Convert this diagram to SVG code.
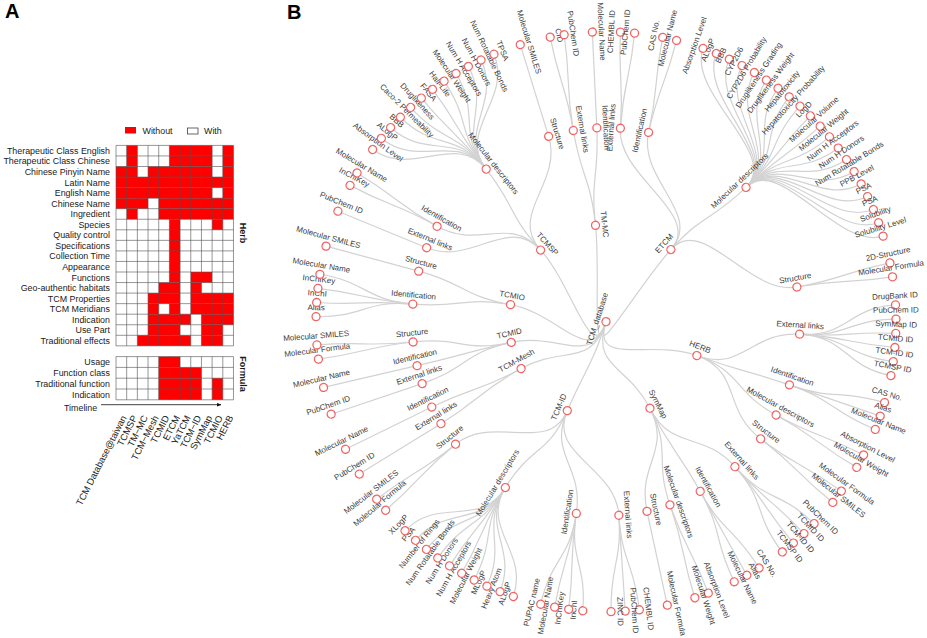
<svg xmlns="http://www.w3.org/2000/svg" width="927" height="638" viewBox="0 0 927 638">
<defs>
<style>
text{font-family:"Liberation Sans",Arial,Helvetica,sans-serif}
.t{font-size:8.9px;fill:#1a1a1a}
.e{text-anchor:end}
.cl{font-size:9.4px;fill:#1a1a1a;text-anchor:end}
.sec{font-size:9px;font-weight:bold;fill:#1a1a1a;text-anchor:middle}
.pl{font-size:20px;font-weight:bold;fill:#000}
.red{fill:#ff0000}
.grid{fill:none;stroke:#505050;stroke-width:0.6}
.lk{fill:none;stroke:#d2d2d2;stroke-width:1.2}
.nd circle{fill:#fff;stroke:#f06464;stroke-width:1.3}
.nd text{font-size:8px;fill:#3d3d3d;text-anchor:middle}
</style>
<marker id="ah" viewBox="0 0 10 10" refX="9" refY="5" markerWidth="6" markerHeight="6" orient="auto"><path d="M0,1L10,5L0,9z" fill="#111"/></marker>
</defs>
<rect width="927" height="638" fill="#fff"/>

<g id="panelA">
<text class="pl" x="5" y="17.5">A</text>
<g id="legend">
<rect x="125" y="127" width="11" height="6.5" class="red"/>
<text class="t" x="142.5" y="133.5">Without</text>
<rect x="187.5" y="128" width="10.5" height="6" fill="#fff" stroke="#444" stroke-width="0.8"/>
<text class="t" x="204" y="133.5">With</text>
</g>
<g id="herb-cells">
<rect class="red" x="126.68" y="145.4" width="10.68" height="10.55"/>
<rect class="red" x="169.4" y="145.4" width="42.72" height="10.55"/>
<rect class="red" x="222.8" y="145.4" width="10.68" height="10.55"/>
<rect class="red" x="126.68" y="155.95" width="10.68" height="10.55"/>
<rect class="red" x="169.4" y="155.95" width="42.72" height="10.55"/>
<rect class="red" x="222.8" y="155.95" width="10.68" height="10.55"/>
<rect class="red" x="116" y="166.5" width="21.36" height="10.55"/>
<rect class="red" x="148.04" y="166.5" width="64.08" height="10.55"/>
<rect class="red" x="222.8" y="166.5" width="10.68" height="10.55"/>
<rect class="red" x="116" y="177.05" width="117.48" height="10.55"/>
<rect class="red" x="116" y="187.6" width="96.12" height="10.55"/>
<rect class="red" x="222.8" y="187.6" width="10.68" height="10.55"/>
<rect class="red" x="116" y="198.15" width="32.04" height="10.55"/>
<rect class="red" x="158.72" y="198.15" width="74.76" height="10.55"/>
<rect class="red" x="126.68" y="208.7" width="10.68" height="10.55"/>
<rect class="red" x="158.72" y="208.7" width="74.76" height="10.55"/>
<rect class="red" x="169.4" y="219.25" width="10.68" height="52.75"/>
<rect class="red" x="212.12" y="219.25" width="10.68" height="10.55"/>
<rect class="red" x="169.4" y="272" width="10.68" height="10.55"/>
<rect class="red" x="190.76" y="272" width="21.36" height="10.55"/>
<rect class="red" x="158.72" y="282.55" width="21.36" height="10.55"/>
<rect class="red" x="190.76" y="282.55" width="10.68" height="10.55"/>
<rect class="red" x="148.04" y="293.1" width="32.04" height="10.55"/>
<rect class="red" x="190.76" y="293.1" width="42.72" height="10.55"/>
<rect class="red" x="148.04" y="303.65" width="10.68" height="10.55"/>
<rect class="red" x="169.4" y="303.65" width="10.68" height="10.55"/>
<rect class="red" x="190.76" y="303.65" width="42.72" height="10.55"/>
<rect class="red" x="148.04" y="314.2" width="42.72" height="10.55"/>
<rect class="red" x="201.44" y="314.2" width="32.04" height="10.55"/>
<rect class="red" x="148.04" y="324.75" width="32.04" height="10.55"/>
<rect class="red" x="201.44" y="324.75" width="21.36" height="10.55"/>
<rect class="red" x="137.36" y="335.3" width="53.4" height="10.55"/>
<rect class="red" x="201.44" y="335.3" width="21.36" height="10.55"/>
</g>
<path class="grid" d="M116,145.4V345.85M126.68,145.4V345.85M137.36,145.4V345.85M148.04,145.4V345.85M158.72,145.4V345.85M169.4,145.4V345.85M180.08,145.4V345.85M190.76,145.4V345.85M201.44,145.4V345.85M212.12,145.4V345.85M222.8,145.4V345.85M233.48,145.4V345.85M116,145.4H233.48M116,155.95H233.48M116,166.5H233.48M116,177.05H233.48M116,187.6H233.48M116,198.15H233.48M116,208.7H233.48M116,219.25H233.48M116,229.8H233.48M116,240.35H233.48M116,250.9H233.48M116,261.45H233.48M116,272H233.48M116,282.55H233.48M116,293.1H233.48M116,303.65H233.48M116,314.2H233.48M116,324.75H233.48M116,335.3H233.48M116,345.85H233.48"/>
<g id="formula-cells">
<rect class="red" x="158.72" y="356.6" width="21.36" height="10.8"/>
<rect class="red" x="158.72" y="367.4" width="42.72" height="10.8"/>
<rect class="red" x="158.72" y="378.2" width="42.72" height="21.6"/>
<rect class="red" x="212.12" y="378.2" width="10.68" height="21.6"/>
</g>
<path class="grid" d="M116,356.6V399.8M126.68,356.6V399.8M137.36,356.6V399.8M148.04,356.6V399.8M158.72,356.6V399.8M169.4,356.6V399.8M180.08,356.6V399.8M190.76,356.6V399.8M201.44,356.6V399.8M212.12,356.6V399.8M222.8,356.6V399.8M233.48,356.6V399.8M116,356.6H233.48M116,367.4H233.48M116,378.2H233.48M116,389H233.48M116,399.8H233.48"/>
<g id="row-labels" class="t e">
<text x="110" y="153.9">Therapeutic Class English</text>
<text x="110" y="164.45">Therapeutic Class Chinese</text>
<text x="110" y="175">Chinese Pinyin Name</text>
<text x="110" y="185.55">Latin Name</text>
<text x="110" y="196.1">English Name</text>
<text x="110" y="206.65">Chinese Name</text>
<text x="110" y="217.2">Ingredient</text>
<text x="110" y="227.75">Species</text>
<text x="110" y="238.3">Quality control</text>
<text x="110" y="248.85">Specifications</text>
<text x="110" y="259.4">Collection Time</text>
<text x="110" y="269.95">Appearance</text>
<text x="110" y="280.5">Functions</text>
<text x="110" y="291.05">Geo-authentic habitats</text>
<text x="110" y="301.6">TCM Properties</text>
<text x="110" y="312.15">TCM Meridians</text>
<text x="110" y="322.7">Indication</text>
<text x="110" y="333.25">Use Part</text>
<text x="110" y="343.8">Traditional effects</text>
<text x="110" y="365.2">Usage</text>
<text x="110" y="376">Function class</text>
<text x="110" y="386.8">Traditional function</text>
<text x="110" y="397.6">Indication</text>
</g>
<text class="sec" transform="translate(240,233) rotate(90)">Herb</text>
<text class="sec" transform="translate(240,374) rotate(90)">Formula</text>
<text class="t" x="64" y="410.5">Timeline</text>
<path d="M101,404.7H221" stroke="#111" stroke-width="0.8" fill="none" marker-end="url(#ah)"/>
<g id="col-labels">
<text class="cl" transform="translate(126.8,417.5) rotate(-63)">TCM Database@taiwan</text>
<text class="cl" transform="translate(137.5,417.5) rotate(-63)">TCMSP</text>
<text class="cl" transform="translate(148.2,417.5) rotate(-63)">TM−MC</text>
<text class="cl" transform="translate(158.9,417.5) rotate(-63)">TCM−Mesh</text>
<text class="cl" transform="translate(169.6,417.5) rotate(-63)">TCMID</text>
<text class="cl" transform="translate(180.2,417.5) rotate(-63)">ETCM</text>
<text class="cl" transform="translate(190.9,417.5) rotate(-63)">YaTCM</text>
<text class="cl" transform="translate(201.6,417.5) rotate(-63)">TCM−ID</text>
<text class="cl" transform="translate(212.3,417.5) rotate(-63)">SymMap</text>
<text class="cl" transform="translate(223,417.5) rotate(-63)">TCMIO</text>
<text class="cl" transform="translate(233.6,417.5) rotate(-63)">HERB</text>
</g>
</g>

<text class="pl" x="287" y="18.5">B</text>
<g id="tree" transform="translate(606,321.7)">
<g id="connectors" class="lk">
<g transform="rotate(197.8875)">
<path d="M0,0C0,-48.5 -19.79,44.28 -39.59,88.55"/>
<path d="M0,0C0,-48.5 -48.45,-2.15 -96.9,-4.29"/>
<path d="M0,0C0,-48.5 -34.18,-34.41 -68.36,-68.81"/>
<path d="M0,0C0,-48.5 4.76,-48.26 9.53,-96.53"/>
<path d="M0,0C0,-48.5 33.21,-35.35 66.42,-70.69"/>
<path d="M0,0C0,-48.5 41.92,-24.39 83.84,-48.77"/>
<path d="M0,0C0,-48.5 48.06,-6.53 96.11,-13.06"/>
<path d="M0,0C0,-48.5 42.12,24.04 84.25,48.08"/>
<path d="M0,0C0,-48.5 19.79,44.28 39.59,88.55"/>
</g>
<g transform="rotate(41.975)">
<path d="M0,-97C0,-145.5 -89.02,-115.08 -118.7,-153.44"/>
<path d="M0,-97C0,-145.5 -71.2,-126.88 -94.94,-169.18"/>
<path d="M0,-97C0,-145.5 10.72,-145.1 14.29,-193.47"/>
<path d="M0,-97C0,-145.5 89.02,-115.08 118.7,-153.44"/>
</g>
<g transform="rotate(110.425)">
<path d="M0,-97C0,-145.5 -41.87,-139.34 -55.83,-185.79"/>
<path d="M0,-97C0,-145.5 -3.62,-145.46 -4.83,-193.94"/>
<path d="M0,-97C0,-145.5 21.07,-143.96 28.09,-191.95"/>
<path d="M0,-97C0,-145.5 41.87,-139.34 55.83,-185.79"/>
</g>
<g transform="rotate(153.075)">
<path d="M0,-97C0,-145.5 -36.98,-140.72 -49.31,-187.62"/>
<path d="M0,-97C0,-145.5 -5.4,-145.4 -7.19,-193.87"/>
<path d="M0,-97C0,-145.5 19.43,-144.2 25.91,-192.26"/>
<path d="M0,-97C0,-145.5 36.98,-140.72 49.31,-187.62"/>
</g>
<g transform="rotate(203.525)">
<path d="M0,-97C0,-145.5 -66.79,-129.26 -89.05,-172.35"/>
<path d="M0,-97C0,-145.5 -36.98,-140.72 -49.31,-187.62"/>
<path d="M0,-97C0,-145.5 19.56,-144.18 26.08,-192.24"/>
<path d="M0,-97C0,-145.5 66.79,-129.26 89.05,-172.35"/>
</g>
<g transform="rotate(241.1)">
<path d="M0,-97C0,-145.5 -7.11,-145.33 -9.48,-193.77"/>
<path d="M0,-97C0,-145.5 7.11,-145.33 9.48,-193.77"/>
</g>
<g transform="rotate(257.7)">
<path d="M0,-97C0,-145.5 -15.97,-144.62 -21.29,-192.83"/>
<path d="M0,-97C0,-145.5 -2.03,-145.49 -2.71,-193.98"/>
<path d="M0,-97C0,-145.5 15.97,-144.62 21.29,-192.83"/>
</g>
<g transform="rotate(280.15)">
<path d="M0,-97C0,-145.5 -12.56,-144.96 -16.74,-193.27"/>
<path d="M0,-97C0,-145.5 12.56,-144.96 16.74,-193.27"/>
</g>
<g transform="rotate(317.6)">
<path d="M0,-97C0,-145.5 -61.95,-131.65 -82.6,-175.53"/>
<path d="M0,-97C0,-145.5 -45.32,-138.26 -60.43,-184.35"/>
<path d="M0,-97C0,-145.5 10.78,-145.1 14.38,-193.46"/>
<path d="M0,-97C0,-145.5 61.95,-131.65 82.6,-175.53"/>
</g>
<g transform="rotate(353.8)">
<path d="M0,-97C0,-145.5 -8.88,-145.22 -11.84,-193.63"/>
<path d="M0,-97C0,-145.5 8.88,-145.22 11.84,-193.63"/>
</g>
<!-- leaf links -->
<g transform="rotate(4.25)">
<path d="M0,-194C0,-242 -5.9,-241.9 -7.1,-289.9"/><path d="M0,-194C0,-242 5.9,-241.9 7.1,-289.9"/>
</g>
<g transform="rotate(12.675)">
<path d="M0,-194C0,-242 -5.9,-241.9 -7.1,-289.9"/><path d="M0,-194C0,-242 5.9,-241.9 7.1,-289.9"/>
</g>
<g transform="rotate(46.2)">
<path d="M0,-194C0,-242 -108.5,-216.3 -130.1,-259.2"/>
<path d="M0,-194C0,-242 -97.8,-221.3 -117.2,-265.2"/>
<path d="M0,-194C0,-242 -86.9,-225.9 -104.1,-270.7"/>
<path d="M0,-194C0,-242 -75.7,-229.8 -90.7,-275.4"/>
<path d="M0,-194C0,-242 -64.4,-233.3 -77.1,-279.5"/>
<path d="M0,-194C0,-242 -52.9,-236.1 -63.4,-283"/>
<path d="M0,-194C0,-242 -41.3,-238.5 -49.4,-285.7"/>
<path d="M0,-194C0,-242 -29.5,-240.2 -35.4,-287.8"/>
<path d="M0,-194C0,-242 -17.8,-241.3 -21.3,-289.2"/>
<path d="M0,-194C0,-242 -5.9,-241.9 -7.1,-289.9"/>
<path d="M0,-194C0,-242 5.9,-241.9 7.1,-289.9"/>
<path d="M0,-194C0,-242 17.8,-241.3 21.3,-289.2"/>
<path d="M0,-194C0,-242 29.5,-240.2 35.4,-287.8"/>
<path d="M0,-194C0,-242 41.3,-238.5 49.4,-285.7"/>
<path d="M0,-194C0,-242 52.9,-236.1 63.4,-283"/>
<path d="M0,-194C0,-242 64.4,-233.3 77.1,-279.5"/>
<path d="M0,-194C0,-242 75.7,-229.8 90.7,-275.4"/>
<path d="M0,-194C0,-242 86.9,-225.9 104.1,-270.7"/>
<path d="M0,-194C0,-242 97.8,-221.3 117.2,-265.2"/>
<path d="M0,-194C0,-242 108.5,-216.3 130.1,-259.2"/>
</g>
<g transform="rotate(79.7)">
<path d="M0,-194C0,-242 -5.9,-241.9 -7.1,-289.9"/><path d="M0,-194C0,-242 5.9,-241.9 7.1,-289.9"/>
</g>
<g transform="rotate(93.7)">
<path d="M0,-194C0,-242 -29.5,-240.2 -35.4,-287.8"/>
<path d="M0,-194C0,-242 -17.8,-241.3 -21.3,-289.2"/>
<path d="M0,-194C0,-242 -5.9,-241.9 -7.1,-289.9"/>
<path d="M0,-194C0,-242 5.9,-241.9 7.1,-289.9"/>
<path d="M0,-194C0,-242 17.8,-241.3 21.3,-289.2"/>
<path d="M0,-194C0,-242 29.5,-240.2 35.4,-287.8"/>
</g>
<g transform="rotate(109)">
<path d="M0,-194C0,-242 -11.8,-241.7 -14.2,-289.7"/><path d="M0,-194V-290"/><path d="M0,-194C0,-242 11.8,-241.7 14.2,-289.7"/>
</g>
<g transform="rotate(118.75)">
<path d="M0,-194C0,-242 -5.9,-241.9 -7.1,-289.9"/><path d="M0,-194C0,-242 5.9,-241.9 7.1,-289.9"/>
</g>
<g transform="rotate(127.15)">
<path d="M0,-194C0,-242 -5.9,-241.9 -7.1,-289.9"/><path d="M0,-194C0,-242 5.9,-241.9 7.1,-289.9"/>
</g>
<g transform="rotate(138.35)">
<path d="M0,-194C0,-242 -17.8,-241.3 -21.3,-289.2"/>
<path d="M0,-194C0,-242 -5.9,-241.9 -7.1,-289.9"/>
<path d="M0,-194C0,-242 5.9,-241.9 7.1,-289.9"/>
<path d="M0,-194C0,-242 17.8,-241.3 21.3,-289.2"/>
</g>
<g transform="rotate(150.95)">
<path d="M0,-194C0,-242 -11.8,-241.7 -14.2,-289.7"/><path d="M0,-194V-290"/><path d="M0,-194C0,-242 11.8,-241.7 14.2,-289.7"/>
</g>
<g transform="rotate(160.75)">
<path d="M0,-194C0,-242 -5.9,-241.9 -7.1,-289.9"/><path d="M0,-194C0,-242 5.9,-241.9 7.1,-289.9"/>
</g>
<g transform="rotate(167.8)"><path d="M0,-194V-290"/></g>
<g transform="rotate(176.2)">
<path d="M0,-194C0,-242 -11.8,-241.7 -14.2,-289.7"/><path d="M0,-194V-290"/><path d="M0,-194C0,-242 11.8,-241.7 14.2,-289.7"/>
</g>
<g transform="rotate(188.8)">
<path d="M0,-194C0,-242 -17.8,-241.3 -21.3,-289.2"/>
<path d="M0,-194C0,-242 -5.9,-241.9 -7.1,-289.9"/>
<path d="M0,-194C0,-242 5.9,-241.9 7.1,-289.9"/>
<path d="M0,-194C0,-242 17.8,-241.3 21.3,-289.2"/>
</g>
<g transform="rotate(211.25)">
<path d="M0,-194C0,-242 -52.9,-236.1 -63.4,-283"/>
<path d="M0,-194C0,-242 -41.3,-238.5 -49.4,-285.7"/>
<path d="M0,-194C0,-242 -29.5,-240.2 -35.4,-287.8"/>
<path d="M0,-194C0,-242 -17.8,-241.3 -21.3,-289.2"/>
<path d="M0,-194C0,-242 -5.9,-241.9 -7.1,-289.9"/>
<path d="M0,-194C0,-242 5.9,-241.9 7.1,-289.9"/>
<path d="M0,-194C0,-242 17.8,-241.3 21.3,-289.2"/>
<path d="M0,-194C0,-242 29.5,-240.2 35.4,-287.8"/>
<path d="M0,-194C0,-242 41.3,-238.5 49.4,-285.7"/>
<path d="M0,-194C0,-242 52.9,-236.1 63.4,-283"/>
</g>
<g transform="rotate(230.85)">
<path d="M0,-194C0,-242 -5.9,-241.9 -7.1,-289.9"/><path d="M0,-194C0,-242 5.9,-241.9 7.1,-289.9"/>
</g>
<g transform="rotate(238.3)"><path d="M0,-194V-290"/></g>
<g transform="rotate(243.9)"><path d="M0,-194V-290"/></g>
<g transform="rotate(251.4)"><path d="M0,-194V-290"/></g>
<g transform="rotate(256.9)"><path d="M0,-194V-290"/></g>
<g transform="rotate(264)">
<path d="M0,-194C0,-242 -5.9,-241.9 -7.1,-289.9"/><path d="M0,-194C0,-242 5.9,-241.9 7.1,-289.9"/>
</g>
<g transform="rotate(275.2)">
<path d="M0,-194C0,-242 -17.8,-241.3 -21.3,-289.2"/>
<path d="M0,-194C0,-242 -5.9,-241.9 -7.1,-289.9"/>
<path d="M0,-194C0,-242 5.9,-241.9 7.1,-289.9"/>
<path d="M0,-194C0,-242 17.8,-241.3 21.3,-289.2"/>
</g>
<g transform="rotate(285.1)"><path d="M0,-194V-290"/></g>
<g transform="rotate(292.4)"><path d="M0,-194V-290"/></g>
<g transform="rotate(299.45)">
<path d="M0,-194C0,-242 -5.9,-241.9 -7.1,-289.9"/><path d="M0,-194C0,-242 5.9,-241.9 7.1,-289.9"/>
</g>
<g transform="rotate(321.85)">
<path d="M0,-194C0,-242 -64.4,-233.3 -77.1,-279.5"/>
<path d="M0,-194C0,-242 -52.9,-236.1 -63.4,-283"/>
<path d="M0,-194C0,-242 -41.3,-238.5 -49.4,-285.7"/>
<path d="M0,-194C0,-242 -29.5,-240.2 -35.4,-287.8"/>
<path d="M0,-194C0,-242 -17.8,-241.3 -21.3,-289.2"/>
<path d="M0,-194C0,-242 -5.9,-241.9 -7.1,-289.9"/>
<path d="M0,-194C0,-242 5.9,-241.9 7.1,-289.9"/>
<path d="M0,-194C0,-242 17.8,-241.3 21.3,-289.2"/>
<path d="M0,-194C0,-242 29.5,-240.2 35.4,-287.8"/>
<path d="M0,-194C0,-242 41.3,-238.5 49.4,-285.7"/>
<path d="M0,-194C0,-242 52.9,-236.1 63.4,-283"/>
<path d="M0,-194C0,-242 64.4,-233.3 77.1,-279.5"/>
</g>
<g transform="rotate(342.8)"><path d="M0,-194V-290"/></g>
<g transform="rotate(350.3)">
<path d="M0,-194C0,-242 -5.9,-241.9 -7.1,-289.9"/><path d="M0,-194C0,-242 5.9,-241.9 7.1,-289.9"/>
</g>
<g transform="rotate(357.3)"><path d="M0,-194V-290"/></g>
</g>

<g id="nodes">
<g id="n-root" class="nd" transform="rotate(197.8875)"><circle r="4"/><text transform="rotate(90)" y="-6.5">TCM_database</text></g>
<g id="n-etcm" class="nd" transform="rotate(41.975) translate(0,-97)"><circle r="4"/><text transform="rotate(-90)" y="-6.5">ETCM</text></g>
<g id="n-herb" class="nd" transform="rotate(110.425) translate(0,-97)"><circle r="4"/><text transform="rotate(-90)" y="-6.5">HERB</text></g>
<g id="n-symmap" class="nd" transform="rotate(153.075) translate(0,-97)"><circle r="4"/><text transform="rotate(-90)" y="-6.5">SymMap</text></g>
<g id="n-tcm-id" class="nd" transform="rotate(203.525) translate(0,-97)"><circle r="4"/><text transform="rotate(90)" y="-6.5">TCM-ID</text></g>
<g id="n-tcm-mesh" class="nd" transform="rotate(241.1) translate(0,-97)"><circle r="4"/><text transform="rotate(90)" y="-6.5">TCM-Mesh</text></g>
<g id="n-tcmid" class="nd" transform="rotate(257.7) translate(0,-97)"><circle r="4"/><text transform="rotate(90)" y="-6.5">TCMID</text></g>
<g id="n-tcmio" class="nd" transform="rotate(280.15) translate(0,-97)"><circle r="4"/><text transform="rotate(90)" y="-6.5">TCMIO</text></g>
<g id="n-tcmsp" class="nd" transform="rotate(317.6) translate(0,-97)"><circle r="4"/><text transform="rotate(90)" y="-6.5">TCMSP</text></g>
<g id="n-tm-mc" class="nd" transform="rotate(353.8) translate(0,-97)"><circle r="4"/><text transform="rotate(90)" y="-6.5">TM-MC</text></g>

<g id="n-etcm-el" class="nd" transform="rotate(4.25) translate(0,-194)"><circle r="4"/><text transform="rotate(-90)" y="-6.5">External links</text></g>
<g id="n-etcm-id" class="nd" transform="rotate(12.675) translate(0,-194)"><circle r="4"/><text transform="rotate(-90)" y="-6.5">Identification</text></g>
<g id="n-etcm-md" class="nd" transform="rotate(46.2) translate(0,-194)"><circle r="4"/><text transform="rotate(-90)" y="-6.5">Molecular descriptors</text></g>
<g id="n-etcm-st" class="nd" transform="rotate(79.7) translate(0,-194)"><circle r="4"/><text transform="rotate(-90)" y="-6.5">Structure</text></g>
<g id="n-herb-el" class="nd" transform="rotate(93.7) translate(0,-194)"><circle r="4"/><text transform="rotate(-90)" y="-6.5">External links</text></g>
<g id="n-herb-id" class="nd" transform="rotate(109) translate(0,-194)"><circle r="4"/><text transform="rotate(-90)" y="-6.5">Identification</text></g>
<g id="n-herb-md" class="nd" transform="rotate(118.75) translate(0,-194)"><circle r="4"/><text transform="rotate(-90)" y="-6.5">Molecular descriptors</text></g>
<g id="n-herb-st" class="nd" transform="rotate(127.15) translate(0,-194)"><circle r="4"/><text transform="rotate(-90)" y="-6.5">Structure</text></g>
<g id="n-symmap-el" class="nd" transform="rotate(138.35) translate(0,-194)"><circle r="4"/><text transform="rotate(-90)" y="-6.5">External links</text></g>
<g id="n-symmap-id" class="nd" transform="rotate(150.95) translate(0,-194)"><circle r="4"/><text transform="rotate(-90)" y="-6.5">Identification</text></g>
<g id="n-symmap-md" class="nd" transform="rotate(160.75) translate(0,-194)"><circle r="4"/><text transform="rotate(-90)" y="-6.5">Molecular descriptors</text></g>
<g id="n-symmap-st" class="nd" transform="rotate(167.8) translate(0,-194)"><circle r="4"/><text transform="rotate(-90)" y="-6.5">Structure</text></g>
<g id="n-tcm-id-el" class="nd" transform="rotate(176.2) translate(0,-194)"><circle r="4"/><text transform="rotate(-90)" y="-6.5">External links</text></g>
<g id="n-tcm-id-id" class="nd" transform="rotate(188.8) translate(0,-194)"><circle r="4"/><text transform="rotate(90)" y="-6.5">Identification</text></g>
<g id="n-tcm-id-md" class="nd" transform="rotate(211.25) translate(0,-194)"><circle r="4"/><text transform="rotate(90)" y="-6.5">Molecular descriptors</text></g>
<g id="n-tcm-id-st" class="nd" transform="rotate(230.85) translate(0,-194)"><circle r="4"/><text transform="rotate(90)" y="-6.5">Structure</text></g>
<g id="n-mesh-el" class="nd" transform="rotate(238.3) translate(0,-194)"><circle r="4"/><text transform="rotate(90)" y="-6.5">External links</text></g>
<g id="n-mesh-id" class="nd" transform="rotate(243.9) translate(0,-194)"><circle r="4"/><text transform="rotate(90)" y="-6.5">Identification</text></g>
<g id="n-tcmid-el" class="nd" transform="rotate(251.4) translate(0,-194)"><circle r="4"/><text transform="rotate(90)" y="-6.5">External links</text></g>
<g id="n-tcmid-id" class="nd" transform="rotate(256.9) translate(0,-194)"><circle r="4"/><text transform="rotate(90)" y="-6.5">Identification</text></g>
<g id="n-tcmid-st" class="nd" transform="rotate(264) translate(0,-194)"><circle r="4"/><text transform="rotate(90)" y="-6.5">Structure</text></g>
<g id="n-tcmio-id" class="nd" transform="rotate(275.2) translate(0,-194)"><circle r="4"/><text transform="rotate(90)" y="-6.5">Identification</text></g>
<g id="n-tcmio-st" class="nd" transform="rotate(285.1) translate(0,-194)"><circle r="4"/><text transform="rotate(90)" y="-6.5">Structure</text></g>
<g id="n-tcmsp-el" class="nd" transform="rotate(292.4) translate(0,-194)"><circle r="4"/><text transform="rotate(90)" y="-6.5">External links</text></g>
<g id="n-tcmsp-id" class="nd" transform="rotate(299.45) translate(0,-194)"><circle r="4"/><text transform="rotate(90)" y="-6.5">Identification</text></g>
<g id="n-tcmsp-md" class="nd" transform="rotate(321.85) translate(0,-194)"><circle r="4"/><text transform="rotate(90)" y="-6.5">Molecular descriptors</text></g>
<g id="n-tcmsp-st" class="nd" transform="rotate(342.8) translate(0,-194)"><circle r="4"/><text transform="rotate(90)" y="-6.5">Structure</text></g>
<g id="n-tmmc-el" class="nd" transform="rotate(350.3) translate(0,-194)"><circle r="4"/><text transform="rotate(90)" y="-6.5">External links</text></g>
<g id="n-tmmc-id" class="nd" transform="rotate(357.3) translate(0,-194)"><circle r="4"/><text transform="rotate(90)" y="-6.5">Identification</text></g>

<g id="n-etcm-el-1" class="nd" transform="rotate(2.8475) translate(0,-290)"><circle r="4"/><text transform="rotate(-90)" y="-6.5">CHEMBL ID</text></g>
<g id="n-etcm-el-2" class="nd" transform="rotate(5.6525) translate(0,-290)"><circle r="4"/><text transform="rotate(-90)" y="-6.5">PubChem ID</text></g>
<g id="n-etcm-id-1" class="nd" transform="rotate(11.2725) translate(0,-290)"><circle r="4"/><text transform="rotate(-90)" y="-6.5">CAS No.</text></g>
<g id="n-etcm-id-2" class="nd" transform="rotate(14.0775) translate(0,-290)"><circle r="4"/><text transform="rotate(-90)" y="-6.5">Molecular Name</text></g>
<g id="n-etcm-md-1" class="nd" transform="rotate(19.5525) translate(0,-290)"><circle r="4"/><text transform="rotate(-90)" y="-6.5">Absorption Level</text></g>
<g id="n-etcm-md-2" class="nd" transform="rotate(22.3575) translate(0,-290)"><circle r="4"/><text transform="rotate(-90)" y="-6.5">ALogP</text></g>
<g id="n-etcm-md-3" class="nd" transform="rotate(25.1625) translate(0,-290)"><circle r="4"/><text transform="rotate(-90)" y="-6.5">BBB</text></g>
<g id="n-etcm-md-4" class="nd" transform="rotate(27.9675) translate(0,-290)"><circle r="4"/><text transform="rotate(-90)" y="-6.5">CYP2D6</text></g>
<g id="n-etcm-md-5" class="nd" transform="rotate(30.7725) translate(0,-290)"><circle r="4"/><text transform="rotate(-90)" y="-6.5">CYP2D6 Probability</text></g>
<g id="n-etcm-md-6" class="nd" transform="rotate(33.5775) translate(0,-290)"><circle r="4"/><text transform="rotate(-90)" y="-6.5">Druglikeness Grading</text></g>
<g id="n-etcm-md-7" class="nd" transform="rotate(36.3825) translate(0,-290)"><circle r="4"/><text transform="rotate(-90)" y="-6.5">Druglikeness Weight</text></g>
<g id="n-etcm-md-8" class="nd" transform="rotate(39.1875) translate(0,-290)"><circle r="4"/><text transform="rotate(-90)" y="-6.5">Hepatotoxicity</text></g>
<g id="n-etcm-md-9" class="nd" transform="rotate(41.9925) translate(0,-290)"><circle r="4"/><text transform="rotate(-90)" y="-6.5">Hepatotoxicity Probability</text></g>
<g id="n-etcm-md-10" class="nd" transform="rotate(44.7975) translate(0,-290)"><circle r="4"/><text transform="rotate(-90)" y="-6.5">LogD</text></g>
<g id="n-etcm-md-11" class="nd" transform="rotate(47.6025) translate(0,-290)"><circle r="4"/><text transform="rotate(-90)" y="-6.5">Molecular Volume</text></g>
<g id="n-etcm-md-12" class="nd" transform="rotate(50.4075) translate(0,-290)"><circle r="4"/><text transform="rotate(-90)" y="-6.5">Molecular Weight</text></g>
<g id="n-etcm-md-13" class="nd" transform="rotate(53.2125) translate(0,-290)"><circle r="4"/><text transform="rotate(-90)" y="-6.5">Num H Acceptors</text></g>
<g id="n-etcm-md-14" class="nd" transform="rotate(56.0175) translate(0,-290)"><circle r="4"/><text transform="rotate(-90)" y="-6.5">Num H Donors</text></g>
<g id="n-etcm-md-15" class="nd" transform="rotate(58.8225) translate(0,-290)"><circle r="4"/><text transform="rotate(-90)" y="-6.5">Num Rotatable Bonds</text></g>
<g id="n-etcm-md-16" class="nd" transform="rotate(61.6275) translate(0,-290)"><circle r="4"/><text transform="rotate(-90)" y="-6.5">PPB Level</text></g>
<g id="n-etcm-md-17" class="nd" transform="rotate(64.4325) translate(0,-290)"><circle r="4"/><text transform="rotate(-90)" y="-6.5">PSA</text></g>
<g id="n-etcm-md-18" class="nd" transform="rotate(67.2375) translate(0,-290)"><circle r="4"/><text transform="rotate(-90)" y="-6.5">PSA</text></g>
<g id="n-etcm-md-19" class="nd" transform="rotate(70.0425) translate(0,-290)"><circle r="4"/><text transform="rotate(-90)" y="-6.5">Solubility</text></g>
<g id="n-etcm-md-20" class="nd" transform="rotate(72.8475) translate(0,-290)"><circle r="4"/><text transform="rotate(-90)" y="-6.5">Solubility Level</text></g>
<g id="n-etcm-st-1" class="nd" transform="rotate(78.2975) translate(0,-290)"><circle r="4"/><text transform="rotate(-90)" y="-6.5">2D-Structure</text></g>
<g id="n-etcm-st-2" class="nd" transform="rotate(81.1025) translate(0,-290)"><circle r="4"/><text transform="rotate(-90)" y="-6.5">Molecular Formula</text></g>

<g id="n-herb-el-1" class="nd" transform="rotate(86.6875) translate(0,-290)"><circle r="4"/><text transform="rotate(-90)" y="-6.5">DrugBank ID</text></g>
<g id="n-herb-el-2" class="nd" transform="rotate(89.4925) translate(0,-290)"><circle r="4"/><text transform="rotate(-90)" y="-6.5">PubChem ID</text></g>
<g id="n-herb-el-3" class="nd" transform="rotate(92.2975) translate(0,-290)"><circle r="4"/><text transform="rotate(-90)" y="-6.5">SymMap ID</text></g>
<g id="n-herb-el-4" class="nd" transform="rotate(95.1025) translate(0,-290)"><circle r="4"/><text transform="rotate(-90)" y="-6.5">TCMID ID</text></g>
<g id="n-herb-el-5" class="nd" transform="rotate(97.9075) translate(0,-290)"><circle r="4"/><text transform="rotate(-90)" y="-6.5">TCM-ID ID</text></g>
<g id="n-herb-el-6" class="nd" transform="rotate(100.7125) translate(0,-290)"><circle r="4"/><text transform="rotate(-90)" y="-6.5">TCMSP ID</text></g>
<g id="n-herb-id-1" class="nd" transform="rotate(106.195) translate(0,-290)"><circle r="4"/><text transform="rotate(-90)" y="-6.5">CAS No.</text></g>
<g id="n-herb-id-2" class="nd" transform="rotate(109) translate(0,-290)"><circle r="4"/><text transform="rotate(-90)" y="-6.5">Alias</text></g>
<g id="n-herb-id-3" class="nd" transform="rotate(111.805) translate(0,-290)"><circle r="4"/><text transform="rotate(-90)" y="-6.5">Molecular Name</text></g>
<g id="n-herb-md-1" class="nd" transform="rotate(117.3475) translate(0,-290)"><circle r="4"/><text transform="rotate(-90)" y="-6.5">Absorption Level</text></g>
<g id="n-herb-md-2" class="nd" transform="rotate(120.1525) translate(0,-290)"><circle r="4"/><text transform="rotate(-90)" y="-6.5">Molecular Weight</text></g>
<g id="n-herb-st-1" class="nd" transform="rotate(125.7475) translate(0,-290)"><circle r="4"/><text transform="rotate(-90)" y="-6.5">Molecular Formula</text></g>
<g id="n-herb-st-2" class="nd" transform="rotate(128.5525) translate(0,-290)"><circle r="4"/><text transform="rotate(-90)" y="-6.5">Molecular SMILES</text></g>

<g id="n-symmap-el-1" class="nd" transform="rotate(134.1425) translate(0,-290)"><circle r="4"/><text transform="rotate(-90)" y="-6.5">PubChem ID</text></g>
<g id="n-symmap-el-2" class="nd" transform="rotate(136.9475) translate(0,-290)"><circle r="4"/><text transform="rotate(-90)" y="-6.5">TCMID ID</text></g>
<g id="n-symmap-el-3" class="nd" transform="rotate(139.7525) translate(0,-290)"><circle r="4"/><text transform="rotate(-90)" y="-6.5">TCM-ID ID</text></g>
<g id="n-symmap-el-4" class="nd" transform="rotate(142.5575) translate(0,-290)"><circle r="4"/><text transform="rotate(-90)" y="-6.5">TCMSP ID</text></g>
<g id="n-symmap-id-1" class="nd" transform="rotate(148.145) translate(0,-290)"><circle r="4"/><text transform="rotate(-90)" y="-6.5">CAS No.</text></g>
<g id="n-symmap-id-2" class="nd" transform="rotate(150.95) translate(0,-290)"><circle r="4"/><text transform="rotate(-90)" y="-6.5">Alias</text></g>
<g id="n-symmap-id-3" class="nd" transform="rotate(153.755) translate(0,-290)"><circle r="4"/><text transform="rotate(-90)" y="-6.5">Molecular Name</text></g>
<g id="n-symmap-md-1" class="nd" transform="rotate(159.3475) translate(0,-290)"><circle r="4"/><text transform="rotate(-90)" y="-6.5">Absorption Level</text></g>
<g id="n-symmap-md-2" class="nd" transform="rotate(162.1525) translate(0,-290)"><circle r="4"/><text transform="rotate(-90)" y="-6.5">Molecular Weight</text></g>
<g id="n-symmap-st-1" class="nd" transform="rotate(167.8) translate(0,-290)"><circle r="4"/><text transform="rotate(-90)" y="-6.5">Molecular Formula</text></g>

<g id="n-tcm-id-el-1" class="nd" transform="rotate(173.395) translate(0,-290)"><circle r="4"/><text transform="rotate(-90)" y="-6.5">CHEMBL ID</text></g>
<g id="n-tcm-id-el-2" class="nd" transform="rotate(176.2) translate(0,-290)"><circle r="4"/><text transform="rotate(-90)" y="-6.5">PubChem ID</text></g>
<g id="n-tcm-id-el-3" class="nd" transform="rotate(179.005) translate(0,-290)"><circle r="4"/><text transform="rotate(-90)" y="-6.5">ZINC ID</text></g>
<g id="n-tcm-id-id-1" class="nd" transform="rotate(184.5925) translate(0,-290)"><circle r="4"/><text transform="rotate(90)" y="-6.5">InChI</text></g>
<g id="n-tcm-id-id-2" class="nd" transform="rotate(187.3975) translate(0,-290)"><circle r="4"/><text transform="rotate(90)" y="-6.5">InChIKey</text></g>
<g id="n-tcm-id-id-3" class="nd" transform="rotate(190.2025) translate(0,-290)"><circle r="4"/><text transform="rotate(90)" y="-6.5">Molecular Name</text></g>
<g id="n-tcm-id-id-4" class="nd" transform="rotate(193.0075) translate(0,-290)"><circle r="4"/><text transform="rotate(90)" y="-6.5">PUPAC name</text></g>
<g id="n-tcm-id-md-1" class="nd" transform="rotate(198.6275) translate(0,-290)"><circle r="4"/><text transform="rotate(90)" y="-6.5">ALogP</text></g>
<g id="n-tcm-id-md-2" class="nd" transform="rotate(201.4325) translate(0,-290)"><circle r="4"/><text transform="rotate(90)" y="-6.5">Heavy Atom</text></g>
<g id="n-tcm-id-md-3" class="nd" transform="rotate(204.2375) translate(0,-290)"><circle r="4"/><text transform="rotate(90)" y="-6.5">MLogP</text></g>
<g id="n-tcm-id-md-4" class="nd" transform="rotate(207.0425) translate(0,-290)"><circle r="4"/><text transform="rotate(90)" y="-6.5">Molecular Weight</text></g>
<g id="n-tcm-id-md-5" class="nd" transform="rotate(209.8475) translate(0,-290)"><circle r="4"/><text transform="rotate(90)" y="-6.5">Num H Acceptors</text></g>
<g id="n-tcm-id-md-6" class="nd" transform="rotate(212.6525) translate(0,-290)"><circle r="4"/><text transform="rotate(90)" y="-6.5">Num H Donors</text></g>
<g id="n-tcm-id-md-7" class="nd" transform="rotate(215.4575) translate(0,-290)"><circle r="4"/><text transform="rotate(90)" y="-6.5">Num Rotatable Bonds</text></g>
<g id="n-tcm-id-md-8" class="nd" transform="rotate(218.2625) translate(0,-290)"><circle r="4"/><text transform="rotate(90)" y="-6.5">Number of Rings</text></g>
<g id="n-tcm-id-md-9" class="nd" transform="rotate(221.0675) translate(0,-290)"><circle r="4"/><text transform="rotate(90)" y="-6.5">PSA</text></g>
<g id="n-tcm-id-md-10" class="nd" transform="rotate(223.8725) translate(0,-290)"><circle r="4"/><text transform="rotate(90)" y="-6.5">XLogP</text></g>
<g id="n-tcm-id-st-1" class="nd" transform="rotate(229.4475) translate(0,-290)"><circle r="4"/><text transform="rotate(90)" y="-6.5">Molecular Formula</text></g>
<g id="n-tcm-id-st-2" class="nd" transform="rotate(232.2525) translate(0,-290)"><circle r="4"/><text transform="rotate(90)" y="-6.5">Molecular SMILES</text></g>

<g id="n-mesh-el-1" class="nd" transform="rotate(238.3) translate(0,-290)"><circle r="4"/><text transform="rotate(90)" y="-6.5">PubChem ID</text></g>
<g id="n-mesh-id-1" class="nd" transform="rotate(243.9) translate(0,-290)"><circle r="4"/><text transform="rotate(90)" y="-6.5">Molecular Name</text></g>
<g id="n-tcmid-el-1" class="nd" transform="rotate(251.4) translate(0,-290)"><circle r="4"/><text transform="rotate(90)" y="-6.5">PubChem ID</text></g>
<g id="n-tcmid-id-1" class="nd" transform="rotate(256.9) translate(0,-290)"><circle r="4"/><text transform="rotate(90)" y="-6.5">Molecular Name</text></g>
<g id="n-tcmid-st-1" class="nd" transform="rotate(262.5975) translate(0,-290)"><circle r="4"/><text transform="rotate(90)" y="-6.5">Molecular Formula</text></g>
<g id="n-tcmid-st-2" class="nd" transform="rotate(265.4025) translate(0,-290)"><circle r="4"/><text transform="rotate(90)" y="-6.5">Molecular SMILES</text></g>
<g id="n-tcmio-id-1" class="nd" transform="rotate(270.9925) translate(0,-290)"><circle r="4"/><text transform="rotate(90)" y="-6.5">Alias</text></g>
<g id="n-tcmio-id-2" class="nd" transform="rotate(273.7975) translate(0,-290)"><circle r="4"/><text transform="rotate(90)" y="-6.5">InChI</text></g>
<g id="n-tcmio-id-3" class="nd" transform="rotate(276.6025) translate(0,-290)"><circle r="4"/><text transform="rotate(90)" y="-6.5">InChIKey</text></g>
<g id="n-tcmio-id-4" class="nd" transform="rotate(279.4075) translate(0,-290)"><circle r="4"/><text transform="rotate(90)" y="-6.5">Molecular Name</text></g>
<g id="n-tcmio-st-1" class="nd" transform="rotate(285.1) translate(0,-290)"><circle r="4"/><text transform="rotate(90)" y="-6.5">Molecular SMILES</text></g>

<g id="n-tcmsp-el-1" class="nd" transform="rotate(292.4) translate(0,-290)"><circle r="4"/><text transform="rotate(90)" y="-6.5">PubChem ID</text></g>
<g id="n-tcmsp-id-1" class="nd" transform="rotate(298.0475) translate(0,-290)"><circle r="4"/><text transform="rotate(90)" y="-6.5">InChIKey</text></g>
<g id="n-tcmsp-id-2" class="nd" transform="rotate(300.8525) translate(0,-290)"><circle r="4"/><text transform="rotate(90)" y="-6.5">Molecular Name</text></g>
<g id="n-tcmsp-md-1" class="nd" transform="rotate(306.4225) translate(0,-290)"><circle r="4"/><text transform="rotate(90)" y="-6.5">Absorption Level</text></g>
<g id="n-tcmsp-md-2" class="nd" transform="rotate(309.2275) translate(0,-290)"><circle r="4"/><text transform="rotate(90)" y="-6.5">ALogP</text></g>
<g id="n-tcmsp-md-3" class="nd" transform="rotate(312.0325) translate(0,-290)"><circle r="4"/><text transform="rotate(90)" y="-6.5">BBB</text></g>
<g id="n-tcmsp-md-4" class="nd" transform="rotate(314.8375) translate(0,-290)"><circle r="4"/><text transform="rotate(90)" y="-6.5">Caco-2 Permeability</text></g>
<g id="n-tcmsp-md-5" class="nd" transform="rotate(317.6425) translate(0,-290)"><circle r="4"/><text transform="rotate(90)" y="-6.5">Druglikeness</text></g>
<g id="n-tcmsp-md-6" class="nd" transform="rotate(320.4475) translate(0,-290)"><circle r="4"/><text transform="rotate(90)" y="-6.5">FASA</text></g>
<g id="n-tcmsp-md-7" class="nd" transform="rotate(323.2525) translate(0,-290)"><circle r="4"/><text transform="rotate(90)" y="-6.5">Half-Life</text></g>
<g id="n-tcmsp-md-8" class="nd" transform="rotate(326.0575) translate(0,-290)"><circle r="4"/><text transform="rotate(90)" y="-6.5">Molecular Weight</text></g>
<g id="n-tcmsp-md-9" class="nd" transform="rotate(328.8625) translate(0,-290)"><circle r="4"/><text transform="rotate(90)" y="-6.5">Num H Acceptors</text></g>
<g id="n-tcmsp-md-10" class="nd" transform="rotate(331.6675) translate(0,-290)"><circle r="4"/><text transform="rotate(90)" y="-6.5">Num H Donors</text></g>
<g id="n-tcmsp-md-11" class="nd" transform="rotate(334.4725) translate(0,-290)"><circle r="4"/><text transform="rotate(90)" y="-6.5">Num Rotatable Bonds</text></g>
<g id="n-tcmsp-md-12" class="nd" transform="rotate(337.2775) translate(0,-290)"><circle r="4"/><text transform="rotate(90)" y="-6.5">TPSA</text></g>
<g id="n-tcmsp-st-1" class="nd" transform="rotate(342.8) translate(0,-290)"><circle r="4"/><text transform="rotate(90)" y="-6.5">Molecular SMILES</text></g>
<g id="n-tmmc-el-1" class="nd" transform="rotate(348.8975) translate(0,-290)"><circle r="4"/><text transform="rotate(90)" y="-6.5">CID</text></g>
<g id="n-tmmc-el-2" class="nd" transform="rotate(351.7025) translate(0,-290)"><circle r="4"/><text transform="rotate(90)" y="-6.5">PubChem ID</text></g>
<g id="n-tmmc-id-1" class="nd" transform="rotate(357.3) translate(0,-290)"><circle r="4"/><text transform="rotate(90)" y="-6.5">Molecular Name</text></g>
</g>
</g>
</svg>
